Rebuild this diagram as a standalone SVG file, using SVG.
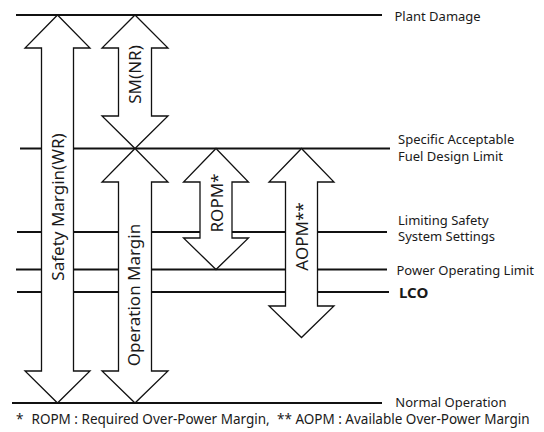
<svg xmlns="http://www.w3.org/2000/svg" width="544" height="432" viewBox="0 0 544 432">
<style>
.lvl{stroke:#111;stroke-width:2;fill:none}
.arr{fill:#fff;stroke:#111;stroke-width:1.3;stroke-linejoin:miter}
.lab{font-family:"Noto Sans","Open Sans",sans-serif;font-size:13px;fill:#1a1a1a}
.bold{font-weight:bold;font-size:15px}
.foot{font-size:13.5px}
.alab{font-family:"Noto Sans","Open Sans",sans-serif;font-size:17px;fill:#1a1a1a;text-anchor:middle}
</style>
<rect width="544" height="432" fill="#fff"/>
<g id="levels">
<g id="plant-damage"><line class="lvl" x1="16" y1="15" x2="382" y2="15"/><text class="lab" x="394.5" y="20.5">Plant Damage</text></g>
<g id="safdl"><line class="lvl" x1="20" y1="148.5" x2="390" y2="148.5"/><text class="lab" x="398" y="144.3">Specific Acceptable</text><text class="lab" x="398" y="160.5">Fuel Design Limit</text></g>
<g id="lsss"><line class="lvl" x1="17" y1="232" x2="387" y2="232"/><text class="lab" x="398" y="224.5">Limiting Safety</text><text class="lab" x="398" y="240.7">System Settings</text></g>
<g id="pol"><line class="lvl" x1="16" y1="269.5" x2="387" y2="269.5"/><text class="lab" x="396.5" y="275">Power Operating Limit</text></g>
<g id="lco"><line class="lvl" x1="17" y1="292" x2="389" y2="292"/><text class="lab bold" x="399" y="298.3">LCO</text></g>
<g id="normal-operation"><line class="lvl" x1="12" y1="403" x2="382" y2="403"/><text class="lab" x="395.3" y="407">Normal Operation</text></g>
</g>
<g id="safety-margin">
<path class="arr" d="M57.5,15 L90,48 L73.5,48 L73.5,371 L90,371 L57.5,403 L25,371 L41.5,371 L41.5,48 L25,48 Z"/>
<text class="alab" transform="translate(63.5,207) rotate(-90)">Safety Margin(WR)</text>
</g>
<g id="sm-nr">
<path class="arr" d="M135,15 L168,48 L151.5,48 L151.5,116 L168,116 L135,148.5 L102,116 L118.5,116 L118.5,48 L102,48 Z"/>
<text class="alab" transform="translate(141,74.5) rotate(-90)">SM(NR)</text>
</g>
<g id="operation-margin">
<path class="arr" d="M135,148.5 L168,182 L151.5,182 L151.5,371 L168,371 L135,403 L102,371 L118.5,371 L118.5,182 L102,182 Z"/>
<text class="alab" transform="translate(139.5,295) rotate(-90)">Operation Margin</text>
</g>
<g id="ropm">
<path class="arr" d="M216,148.5 L248.5,182 L232,182 L232,238 L248.5,238 L216,269.5 L183.5,238 L200,238 L200,182 L183.5,182 Z"/>
<text class="alab" transform="translate(222.5,203) rotate(-90)">ROPM*</text>
</g>
<g id="aopm">
<path class="arr" d="M301.5,148.5 L334,182 L317.5,182 L317.5,306 L334,306 L301.5,337.5 L269,306 L285.5,306 L285.5,182 L269,182 Z"/>
<text class="alab" transform="translate(308,236.5) rotate(-90)">AOPM**</text>
</g>
<g id="footnote">
<text class="lab foot" y="423.8"><tspan x="16">*</tspan><tspan x="31.5">ROPM : Required Over-Power Margin,</tspan><tspan x="277">** AOPM : Available Over-Power Margin</tspan></text>
</g>
</svg>
